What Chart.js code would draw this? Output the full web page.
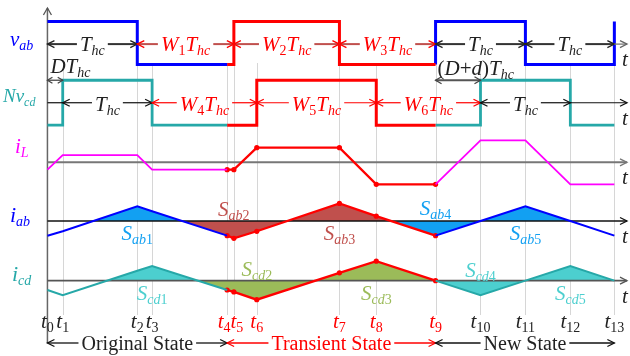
<!DOCTYPE html>
<html>
<head>
<meta charset="utf-8">
<title>Transient waveforms</title>
<script src="https://cdn.jsdelivr.net/npm/chart.js@4.4.1/dist/chart.umd.min.js"></script>
<style>
  html, body { margin: 0; padding: 0; background: #fff; }
  canvas { display: block; }
</style>
</head>
<body>
<canvas id="myChart" width="630" height="356"></canvas>
<script>
// switching instants t0..t13, in units of Thc
const tk = [0, 0.17, 1.0, 1.165, 2.0, 2.075, 2.33, 3.25, 3.66, 4.32, 4.82, 5.32, 5.82, 6.31]
const redFrom = 4, redTo = 9   // t4..t9 = transient

// square waves: edge instant (index into tk) and level after the edge
const vabEdges = [0, 2, 5, 7, 9, 11, 13]
const vabLevels = [1, -1, 1, -1, 1, -1, 1]
const ncdEdges = [0, 1, 3, 6, 8, 10, 12]
const ncdLevels = [-1, 1, -1, 1, -1, 1, -1]

// currents at t0..t13 (arbitrary units)
const iL = [-0.5, 0.5, 0.5, -0.5, -0.5, -0.5, 1, 1, -1.5, -1.5, 1.5, 1.5, -1.5, -1.5]
const iab = [-1, -0.7, 1, 0.67, -1, -1.18, -0.7, 1.2, 0.33, -1, 0, 1, 0, -1]
const icd = [-0.64, -1, 0.67, 1, -0.64, -0.77, -1.3, 0.53, 1.33, 0, -1, 0, 1, 0]
// zero crossings bounding the shaded areas
const iabZero = [0.51, 1.5, 2.66, 3.82]
const icdZero = [0.67, 1.67, 2.98]

// interval labels [from, to, text]
const vabSpans = [[0, 2, 'T_{hc}'], [2, 5, 'W_1T_{hc}'], [5, 7, 'W_2T_{hc}'], [7, 9, 'W_3T_{hc}'], [9, 11, 'T_{hc}'], [11, 13, 'T_{hc}']]
const ncdSpans = [[1, 3, 'T_{hc}'], [3, 6, 'W_4T_{hc}'], [6, 8, 'W_5T_{hc}'], [8, 10, 'W_6T_{hc}'], [10, 12, 'T_{hc}']]
const states = [[0, 4, 'Original State'], [4, 9, 'Transient State'], [9, 13, 'New State']]

// area names and the instant they sit at
const abNames = ['S_{ab1}', 'S_{ab2}', 'S_{ab3}', 'S_{ab4}', 'S_{ab5}']
const abNameAt = [2, 5, 7, 9, 11]
const cdNames = ['S_{cd1}', 'S_{cd2}', 'S_{cd3}', 'S_{cd4}', 'S_{cd5}']
const cdNameAt = [3, 6, 8, 10, 12]

// ---- layout / style ----
const ROW = { vab: 40, ncd: 101, iL: 162, iab: 222, icd: 283 }
const GAIN = { vab: 22, ncd: 23, iL: 15, iab: 15, icd: 15 }
const LEFT = 44, PER_T = 91, W = 630, H = 356
const SERIF = '"Liberation Serif", "Times New Roman", serif'
const C = { blue: '#0000FF', red: '#FF0000', mag: '#FF00FF', teal: '#26A8A8', sky: '#12A0F2',
  brown: '#C0504D', aqua: '#4CCFCF', green: '#9BBB59', ink: '#222' }
const tLabelDx = { 4: -3, 5: 3 }   // t4 and t5 are very close

function stepPts(edges, levels, a, b) {
  let cur = levels[0]
  edges.forEach((k, j) => { if (k < a) cur = levels[j] })
  const pts = [{ x: tk[a], y: cur }]
  edges.forEach((k, j) => {
    if (k >= a && (k < b || b === tk.length - 1)) { cur = levels[j]; pts.push({ x: tk[k], y: cur }) }
  })
  pts.push({ x: tk[b], y: cur })
  return pts
}
function seg(vals, a, b) {
  const pts = []
  for (let k = a; k <= b; k++) pts.push({ x: tk[k], y: vals[k] })
  return pts
}
function fillPts(vals, zeros, from, to) {
  const all = tk.map((x, k) => ({ x, y: vals[k] })).concat(zeros.map(x => ({ x, y: 0 })))
  all.sort((p, q) => p.x - q.x)
  return all.filter(p => p.x >= from - 1e-6 && p.x <= to + 1e-6)
}
const toRow = (pts, r) => pts.map(p => ({ x: p.x, y: ROW[r] - GAIN[r] * p.y }))

const datasets = []
function addLine(pts, color, w, extra) {
  datasets.push(Object.assign({ data: pts, borderColor: color, borderWidth: w, pointRadius: 0,
    fill: false, order: 1, borderJoinStyle: 'miter' }, extra || {}))
}
function addFill(pts, r, color) {
  datasets.push({ data: toRow(pts, r), borderColor: 'rgba(0,0,0,0)', borderWidth: 0, pointRadius: 0,
    backgroundColor: color, fill: { value: ROW[r] }, order: 5 })
}
const dots = { pointRadius: 2.6, pointBackgroundColor: C.red, pointBorderWidth: 0 }
const step = { stepped: 'before' }

// shaded areas
addFill(fillPts(iab, iabZero, iabZero[0], iabZero[1]), 'iab', C.sky)
addFill(fillPts(iab, iabZero, iabZero[1], iabZero[3]), 'iab', C.brown)
addFill(fillPts(iab, iabZero, iabZero[3], tk[12]), 'iab', C.sky)
addFill(fillPts(icd, icdZero, icdZero[0], icdZero[1]), 'icd', C.aqua)
addFill(fillPts(icd, icdZero, icdZero[1], tk[9]), 'icd', C.green)
addFill(fillPts(icd, icdZero, tk[9], tk[13]), 'icd', C.aqua)

// square waves
addLine(toRow(stepPts(vabEdges, vabLevels, 0, redFrom), 'vab'), C.blue, 3, step)
addLine(toRow(stepPts(vabEdges, vabLevels, redFrom, redTo), 'vab'), C.red, 3, step)
addLine(toRow(stepPts(vabEdges, vabLevels, redTo, 13), 'vab'), C.blue, 3, step)
addLine(toRow(stepPts(ncdEdges, ncdLevels, 0, redFrom), 'ncd'), C.teal, 2.8, step)
addLine(toRow(stepPts(ncdEdges, ncdLevels, redFrom, redTo), 'ncd'), C.red, 3, step)
addLine(toRow(stepPts(ncdEdges, ncdLevels, redTo, 13), 'ncd'), C.teal, 2.8, step)

// currents
addLine(toRow(seg(iL, 0, redFrom), 'iL'), C.mag, 1.8)
addLine(toRow(seg(iL, redTo, 13), 'iL'), C.mag, 1.8)
addLine(toRow(seg(iL, redFrom, redTo), 'iL'), C.red, 2.3, dots)
addLine(toRow(seg(iab, 0, redFrom), 'iab'), C.blue, 2)
addLine(toRow(seg(iab, redTo, 13), 'iab'), C.blue, 2)
addLine(toRow(seg(iab, redFrom, redTo), 'iab'), C.red, 2.3, dots)
addLine(toRow(seg(icd, 0, redFrom), 'icd'), C.teal, 2)
addLine(toRow(seg(icd, redTo, 13), 'icd'), C.teal, 2)
addLine(toRow(seg(icd, redFrom, redTo), 'icd'), C.red, 2.3, dots)

// ---- text helpers ----
const font = (size, it) => (it ? 'italic ' : '') + size + 'px ' + SERIF
function runs(str) {
  const out = []
  let i = 0
  while (i < str.length) {
    let sub = false
    if (str[i] === '_') { sub = true; i++ }
    let s
    if (str[i] === '{') { const j = str.indexOf('}', i); s = str.slice(i + 1, j); i = j + 1 }
    else { s = str[i]; i++ }
    for (const ch of s) {
      const it = /[A-Za-z]/.test(ch)
      const last = out[out.length - 1]
      if (last && last.sub === sub && last.it === it) last.s += ch
      else out.push({ s: ch, sub, it })
    }
  }
  return out
}
function mathWidth(ctx, str, size) {
  let w = 0
  for (const r of runs(str)) { ctx.font = font(r.sub ? Math.round(size * 0.65) : size, r.it); w += ctx.measureText(r.s).width }
  return w
}
function drawMath(ctx, str, x, y, color, size, align) {
  const w = mathWidth(ctx, str, size)
  let cx = align === 'left' ? x : x - w / 2
  ctx.fillStyle = color
  ctx.textAlign = 'left'
  ctx.textBaseline = 'alphabetic'
  for (const r of runs(str)) {
    ctx.font = font(r.sub ? Math.round(size * 0.65) : size, r.it)
    ctx.fillText(r.s, cx, y + (r.sub ? size * 0.2 : 0))
    cx += ctx.measureText(r.s).width
  }
}
function line(ctx, x1, y1, x2, y2, color, lw) {
  ctx.strokeStyle = color; ctx.lineWidth = lw
  ctx.beginPath(); ctx.moveTo(x1, y1); ctx.lineTo(x2, y2); ctx.stroke()
}
function head(ctx, x, y, dir, color, len, half) {
  len = len || 7; half = half || 3.5
  ctx.strokeStyle = color; ctx.lineWidth = 1.3
  ctx.beginPath(); ctx.moveTo(x - dir * len, y - half); ctx.lineTo(x, y); ctx.lineTo(x - dir * len, y + half); ctx.stroke()
}
function span(ctx, x1, x2, y, label, o) {
  let a = x2, b = x2
  if (label) {
    let w
    if (o.plain) { ctx.font = o.size + 'px ' + SERIF; w = ctx.measureText(label).width }
    else w = mathWidth(ctx, label, o.size)
    const cx = (x1 + x2) / 2
    a = cx - w / 2 - 3; b = cx + w / 2 + 3
    if (o.plain) {
      ctx.fillStyle = o.text; ctx.textAlign = 'center'; ctx.textBaseline = 'alphabetic'
      ctx.fillText(label, cx, y + o.dy)
    } else drawMath(ctx, label, cx, y + o.dy, o.text, o.size, 'center')
  }
  line(ctx, x1, y, a, y, o.line, o.lw)
  if (label) line(ctx, b, y, x2, y, o.line, o.lw)
  head(ctx, x1, y, -1, o.head, o.hl, o.hw)
  head(ctx, x2, y, 1, o.head, o.hl, o.hw)
}

const drawing = {
  id: 'drawing',
  beforeDraw(chart) {
    const ctx = chart.ctx, xs = chart.scales.x
    ctx.save()
    for (let k = 1; k < tk.length; k++) {
      const x = Math.round(xs.getPixelForValue(tk[k])) + 0.5
      line(ctx, x, 63, x, 315, '#D6D6D6', 1)
    }
    ctx.restore()
  },
  beforeDatasetsDraw(chart) {
    const ctx = chart.ctx, xs = chart.scales.x, ys = chart.scales.y
    const x0 = xs.getPixelForValue(0), xe = 627
    ctx.save()
    line(ctx, x0, 8, x0, 343, '#666', 1.5)
    ctx.strokeStyle = '#555'; ctx.lineWidth = 1.3
    ctx.beginPath(); ctx.moveTo(x0 - 4, 15); ctx.lineTo(x0, 8); ctx.lineTo(x0 + 4, 15); ctx.stroke()
    const axes = [['iL', '#777', 2], ['iab', '#111', 1.4], ['icd', '#555', 1.6]]
    for (const [r, col, lw] of axes) {
      const y = ys.getPixelForValue(ROW[r])
      line(ctx, x0, y, xe, y, col, lw)
      head(ctx, xe, y, 1, col)
    }
    ctx.restore()
  },
  afterDatasetsDraw(chart) {
    const ctx = chart.ctx, xs = chart.scales.x, ys = chart.scales.y
    const X = k => xs.getPixelForValue(tk[k])
    const xe = 627
    ctx.save()

    // interval arrows on the v_ab row
    const yv = ys.getPixelForValue(ROW.vab) + 1
    for (const [a, b, txt] of vabSpans) {
      const w = txt[0] === 'W'
      span(ctx, X(a), X(b), yv, txt, { line: w ? C.brown : '#333', head: w ? C.red : '#222', lw: 2,
        text: w ? C.red : C.ink, size: 21, dy: 7 })
    }
    line(ctx, X(13), yv, xe, yv, '#777', 1.3)
    head(ctx, xe, yv, 1, '#666')

    // interval arrows on the N v_cd row
    const yn = ys.getPixelForValue(ROW.ncd)
    line(ctx, X(0), yn, X(1), yn, '#111', 1.2)
    for (const [a, b, txt] of ncdSpans) {
      const w = txt[0] === 'W'
      span(ctx, X(a), X(b), yn, txt, { line: w ? C.red : '#111', head: w ? C.red : '#111', lw: 1.2,
        text: w ? C.red : C.ink, size: 21, dy: 8 })
    }
    line(ctx, X(12), yn, xe, yn, '#111', 1.2)
    head(ctx, xe, yn, 1, '#111')

    // duty arrows
    const yd = ys.getPixelForValue(ROW.ncd - GAIN.ncd)
    span(ctx, X(0), X(1), yd, null, { line: '#555', head: '#444', lw: 1.4, hl: 5, hw: 3 })
    drawMath(ctx, 'DT_{hc}', X(0) + 3, yd - 7, C.ink, 21, 'left')
    span(ctx, X(9), X(10), yd, null, { line: '#555', head: '#444', lw: 2, hl: 6, hw: 3.5 })
    drawMath(ctx, '(D+d)T_{hc}', X(9) + 2, yd - 5, C.ink, 21, 'left')

    // signal names on the left
    drawMath(ctx, 'v_{ab}', 10, ROW.vab + 6, C.blue, 21, 'left')
    drawMath(ctx, 'Nv_{cd}', 3, ROW.ncd + 1, C.teal, 19, 'left')
    drawMath(ctx, 'i_{L}', 15, ROW.iL - 9, C.mag, 21, 'left')
    drawMath(ctx, 'i_{ab}', 10, ROW.iab, C.blue, 22, 'left')
    drawMath(ctx, 'i_{cd}', 12, ROW.icd - 2, C.teal, 22, 'left')

    // "t" at the end of each time axis
    for (const r of ['vab', 'ncd', 'iL', 'iab', 'icd']) {
      const y = ys.getPixelForValue(ROW[r]) + (r === 'vab' ? 23 : 22)
      drawMath(ctx, 't', 622, y, C.ink, 21, 'left')
    }

    // area names
    const abCol = [C.sky, C.brown, C.brown, C.sky, C.sky]
    const abDy = [18, -6, 18, -7, 18]
    abNames.forEach((n, i) => drawMath(ctx, n, X(abNameAt[i]), ROW.iab + abDy[i], abCol[i], 21, 'center'))
    const cdCol = [C.aqua, C.green, C.green, C.aqua, C.aqua]
    const cdDy = [17, -7, 17, -6, 17]
    cdNames.forEach((n, i) => drawMath(ctx, n, X(cdNameAt[i]), ROW.icd + cdDy[i], cdCol[i], 21, 'center'))

    // instant labels
    tk.forEach((v, k) => {
      const red = k >= redFrom && k <= redTo
      drawMath(ctx, 't_{' + k + '}', X(k) + (tLabelDx[k] || 0), 328, red ? C.red : C.ink, 21, 'center')
    })

    // state arrows
    for (const [a, b, txt] of states) {
      const red = txt[0] === 'T'
      span(ctx, X(a), X(b), 343, txt, { plain: true, line: red ? C.red : '#111', head: red ? C.red : '#111',
        lw: 1.3, text: red ? C.red : C.ink, size: 20, dy: 7 })
    }
    ctx.restore()
  }
}

new Chart(document.getElementById('myChart'), {
  type: 'line',
  data: { datasets },
  options: {
    responsive: false,
    animation: false,
    events: [],
    layout: { padding: 0 },
    scales: {
      x: { type: 'linear', display: false, min: -LEFT / PER_T, max: (W - LEFT) / PER_T },
      y: { type: 'linear', display: false, reverse: true, min: 0, max: H }
    },
    plugins: {
      legend: { display: false },
      tooltip: { enabled: false },
      filler: { drawTime: 'beforeDatasetsDraw' }
    }
  },
  plugins: [drawing]
})
</script>
</body>
</html>
